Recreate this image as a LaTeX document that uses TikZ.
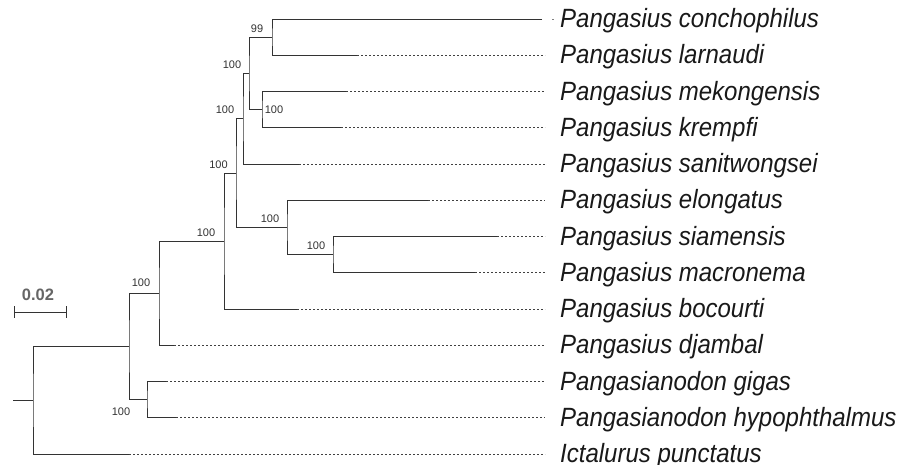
\documentclass[tikz,border=0pt]{standalone}
\usepackage{graphicx}
\usepackage{fontspec}
\setmainfont{Liberation Sans}
\newcommand{\tallify}[1]{\scalebox{1}[1.1]{#1}}
\begin{document}
\begin{tikzpicture}[x=1pt,y=-1pt,
  branch/.style={draw=black!80,line width=0.9pt},
  guide/.style={draw=black!75,line width=0.6pt,dash pattern=on 2.4pt off 1.6pt},
  taxon/.style={anchor=base west,inner sep=0pt,font=\fontsize{24}{24}\selectfont\itshape,text=black!90},
  boot/.style={inner sep=0pt,font=\fontsize{11}{11}\selectfont,text=black!80}]
\useasboundingbox[fill=white] (0,0) rectangle (912,464);
% leaf ends of solid branches
\coordinate (conch) at (542,19);
\coordinate (larn) at (357,55.25);
\coordinate (mek) at (346,91.5);
\coordinate (krem) at (341,127.75);
\coordinate (sanit) at (299,164);
\coordinate (elong) at (428,200.25);
\coordinate (siam) at (497,236.5);
\coordinate (macro) at (475,272.75);
\coordinate (boco) at (297,309);
\coordinate (djam) at (174,345.25);
\coordinate (gig) at (166,381.5);
\coordinate (hyp) at (176,417.75);
\coordinate (ict) at (129,454);
% internal nodes
\coordinate (J) at (272,37.1);
\coordinate (K) at (262,109.6);
\coordinate (I) at (249,73.4);
\coordinate (E) at (243,118.7);
\coordinate (H) at (333,254.6);
\coordinate (F) at (287,227.4);
\coordinate (D) at (236,173);
\coordinate (C) at (224,241);
\coordinate (B) at (159,293.1);
\coordinate (G) at (147,399.6);
\coordinate (A) at (129,346.4);
\coordinate (R) at (33,400.2);
\coordinate (stub) at (13,400.2);
% tree
\draw[branch] (conch) -| (J) |- (larn);
\draw[branch] (mek) -| (K) |- (krem);
\draw[branch] (J) -| (I) |- (K);
\draw[branch] (I) -| (E) |- (sanit);
\draw[branch] (siam) -| (H) |- (macro);
\draw[branch] (elong) -| (F) |- (H);
\draw[branch] (E) -| (D) |- (F);
\draw[branch] (D) -| (C) |- (boco);
\draw[branch] (C) -| (B) |- (djam);
\draw[branch] (gig) -| (G) |- (hyp);
\draw[branch] (B) -| (A) |- (G);
\draw[branch] (A) -| (R) |- (ict);
\draw[branch] (stub) -- (R);
% guides to labels
\foreach \l in {larn,mek,krem,sanit,elong,siam,macro,boco,djam,gig,hyp,ict}
  \draw[guide] (\l) -- (\l -| 545,0);
\coordinate (dot) at (553,19);
\draw[draw=black!50,line width=0.6pt] (dot) ++(-1,0) -- ++(2,0);
% taxon labels
\node[taxon] (tconch) at (560,27.5) {\tallify{Pangasius conchophilus}};
\node[taxon] (tlarn) at (560,63.75) {\tallify{Pangasius larnaudi}};
\node[taxon] (tmek) at (560,100) {\tallify{Pangasius mekongensis}};
\node[taxon] (tkrem) at (560,136.25) {\tallify{Pangasius krempfi}};
\node[taxon] (tsanit) at (560,172.5) {\tallify{Pangasius sanitwongsei}};
\node[taxon] (telong) at (560,208.75) {\tallify{Pangasius elongatus}};
\node[taxon] (tsiam) at (560,245) {\tallify{Pangasius siamensis}};
\node[taxon] (tmacro) at (560,281.25) {\tallify{Pangasius macronema}};
\node[taxon] (tboco) at (560,317.5) {\tallify{Pangasius bocourti}};
\node[taxon] (tdjam) at (560,353.75) {\tallify{Pangasius djambal}};
\node[taxon] (tgig) at (560,390) {\tallify{Pangasianodon gigas}};
\node[taxon] (thyp) at (560,426.25) {\tallify{Pangasianodon hypophthalmus}};
\node[taxon] (tict) at (560,462.5) {\tallify{Ictalurus punctatus}};
% bootstrap values
\node[boot] (bJ) at (257,29) {99};
\node[boot] (bI) at (232,65) {100};
\node[boot] (bK) at (274,109.5) {100};
\node[boot] (bE) at (225,110) {100};
\node[boot] (bD) at (218.5,165) {100};
\node[boot] (bF) at (270,219) {100};
\node[boot] (bH) at (316,246) {100};
\node[boot] (bC) at (206,233) {100};
\node[boot] (bB) at (141,283) {100};
\node[boot] (bG) at (121,412) {100};
% scale bar
\coordinate (s1) at (14,312);
\coordinate (s2) at (66,312);
\draw[draw=black!80,line width=1pt] (s1) -- (s2);
\draw[draw=black!80,line width=1pt] (s1) ++(0,-6) -- ++(0,12);
\draw[draw=black!80,line width=1pt] (s2) ++(0,-6) -- ++(0,12);
\node[inner sep=0pt,font=\fontsize{16.5}{16.5}\selectfont\bfseries,text=black!60] (sc) at (38,295) {0.02};
\end{tikzpicture}
\end{document}
